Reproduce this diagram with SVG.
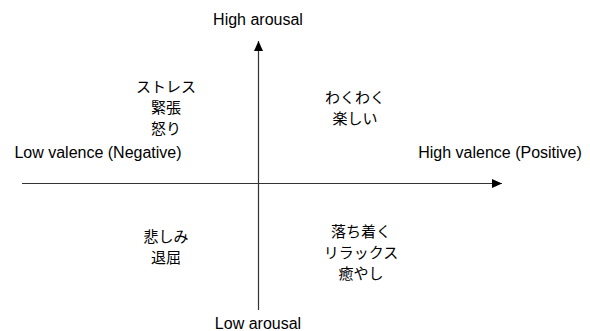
<svg xmlns="http://www.w3.org/2000/svg" width="590" height="331" viewBox="0 0 590 331">
<style>
text{font-family:"Liberation Sans","Noto Sans CJK JP",sans-serif;font-size:15px;fill:#000;text-anchor:middle}
.lat{font-size:16px}
.ax{stroke:#333;stroke-width:1.2;fill:none}
</style>
<defs>
<marker id="ah" viewBox="0 0 10 10" refX="10" refY="5" markerWidth="10" markerHeight="10" markerUnits="userSpaceOnUse" orient="auto">
<path d="M0,0.5 L10,5 L0,9.5 z" fill="#000"/>
</marker>
</defs>
<rect width="590" height="331" fill="#fff"/>
<g id="connectors">
<line class="ax" x1="258.5" y1="310" x2="258.5" y2="41" marker-end="url(#ah)"/>
<line class="ax" x1="22" y1="183.5" x2="502" y2="183.5" marker-end="url(#ah)"/>
</g>
<g id="high-arousal"><text class="lat" x="258" y="25">High arousal</text></g>
<g id="low-arousal"><text class="lat" x="258" y="329">Low arousal</text></g>
<g id="low-valence"><text class="lat" x="98" y="158">Low valence (Negative)</text></g>
<g id="high-valence"><text class="lat" x="500" y="158">High valence (Positive)</text></g>
<g id="q-tl"><text x="166" y="92">ストレス</text><text x="166" y="113">緊張</text><text x="166" y="134">怒り</text></g>
<g id="q-tr"><text x="355" y="103">わくわく</text><text x="355" y="124">楽しい</text></g>
<g id="q-bl"><text x="166" y="242">悲しみ</text><text x="166" y="263">退屈</text></g>
<g id="q-br"><text x="361" y="237">落ち着く</text><text x="361" y="258">リラックス</text><text x="361" y="279">癒やし</text></g>
</svg>
